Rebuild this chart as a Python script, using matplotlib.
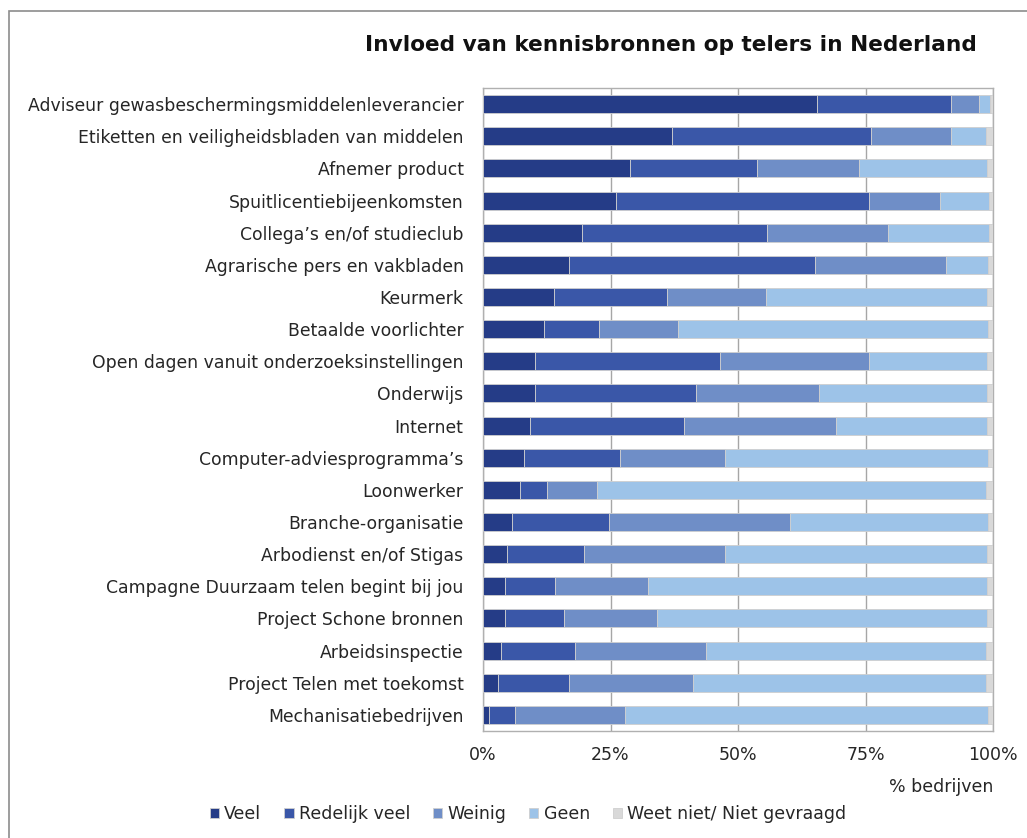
import numpy as np
import matplotlib.pyplot as plt
from matplotlib.patches import Rectangle

bronnen = [
    'Adviseur gewasbeschermingsmiddelenleverancier',
    'Etiketten en veiligheidsbladen van middelen',
    'Afnemer product',
    'Spuitlicentiebijeenkomsten',
    'Collega\u2019s en/of studieclub',
    'Agrarische pers en vakbladen',
    'Keurmerk',
    'Betaalde voorlichter',
    'Open dagen vanuit onderzoeksinstellingen',
    'Onderwijs',
    'Internet',
    'Computer-adviesprogramma\u2019s',
    'Loonwerker',
    'Branche-organisatie',
    'Arbodienst en/of Stigas',
    'Campagne Duurzaam telen begint bij jou',
    'Project Schone bronnen',
    'Arbeidsinspectie',
    'Project Telen met toekomst',
    'Mechanisatiebedrijven',
]

# aandeel bedrijven (%) per antwoordcategorie
veel = [65.4, 37.1, 28.9, 26.1, 19.5, 16.9, 13.9, 12.0, 10.2, 10.2,
        9.3, 8.1, 7.3, 5.7, 4.7, 4.4, 4.3, 3.6, 3.0, 1.1]
redelijk_veel = [26.4, 39.0, 24.8, 49.6, 36.2, 48.2, 22.2, 10.7, 36.3, 31.6,
                 30.1, 18.7, 5.3, 19.0, 15.1, 9.7, 11.6, 14.4, 13.9, 5.2]
weinig = [5.4, 15.7, 20.0, 13.9, 23.7, 25.7, 19.4, 15.6, 29.2, 24.0,
          29.9, 20.6, 9.7, 35.4, 27.7, 18.2, 18.2, 25.7, 24.3, 21.6]
geen = [2.3, 6.9, 25.2, 9.7, 19.9, 8.3, 43.4, 60.8, 23.2, 33.1,
        29.6, 51.7, 76.4, 38.9, 51.4, 66.6, 64.8, 55.0, 57.5, 71.2]
weet_niet = [0.5, 1.3, 1.1, 0.7, 0.7, 0.9, 1.1, 0.9, 1.1, 1.1,
             1.1, 0.9, 1.3, 1.0, 1.1, 1.1, 1.1, 1.3, 1.3, 0.9]

reeksen = ['Veel', 'Redelijk veel', 'Weinig', 'Geen', 'Weet niet/ Niet gevraagd']
kleuren = ['#253c87', '#3a57a8', '#6f8ec7', '#9dc3e8', '#d9d9d9']

fig = plt.figure(figsize=(10.27, 8.38), dpi=100)
ax = fig.add_axes([483 / 1027, 1 - 731 / 838, 510 / 1027, (731 - 88) / 838])

y = np.arange(len(bronnen))
links = np.zeros(len(bronnen))
for waarden, naam, kleur in zip([veel, redelijk_veel, weinig, geen, weet_niet], reeksen, kleuren):
    ax.barh(y, waarden, left=links, height=0.56, color=kleur, edgecolor='#cfcfcf',
            linewidth=0.6, label=naam, zorder=3)
    links += np.array(waarden)

ax.set_xlim(0, 100)
ax.set_ylim(19.5, -0.5)
ax.set_yticks(y)
ax.set_yticklabels(bronnen, fontsize=12.4, color='#262626')
ax.set_xticks([0, 25, 50, 75, 100])
ax.set_xticklabels(['0%', '25%', '50%', '75%', '100%'], fontsize=12.5, color='#262626')
ax.tick_params(axis='y', length=0, pad=14)
ax.tick_params(axis='x', length=0, pad=11)
ax.grid(axis='x', color='#a6a6a6', linewidth=1, zorder=0)
for s in ax.spines.values():
    s.set_color('#b0b0b0')
    s.set_linewidth(1)

ax.set_xlabel('% bedrijven', fontsize=12.5, color='#262626', loc='right', labelpad=10)

fig.text(671 / 1027, 1 - 45 / 838, 'Invloed van kennisbronnen op telers in Nederland',
         fontsize=15.6, fontweight='bold', ha='center', va='center', color='#111111')

fig.legend(loc='center', bbox_to_anchor=(528 / 1027, 1 - 814 / 838), ncol=5, frameon=False,
           fontsize=12.5, handlelength=0.55, handleheight=0.55, handletextpad=0.3,
           columnspacing=1.3, labelcolor='#262626')

# kader rond de hele figuur
fig.patches.append(Rectangle((9 / 1027, -0.1), 1.2, 1 - 11 / 838 + 0.1, transform=fig.transFigure,
                             fill=False, edgecolor='#8c8c8c', linewidth=1.2))

fig.savefig('out.png', dpi=100)
